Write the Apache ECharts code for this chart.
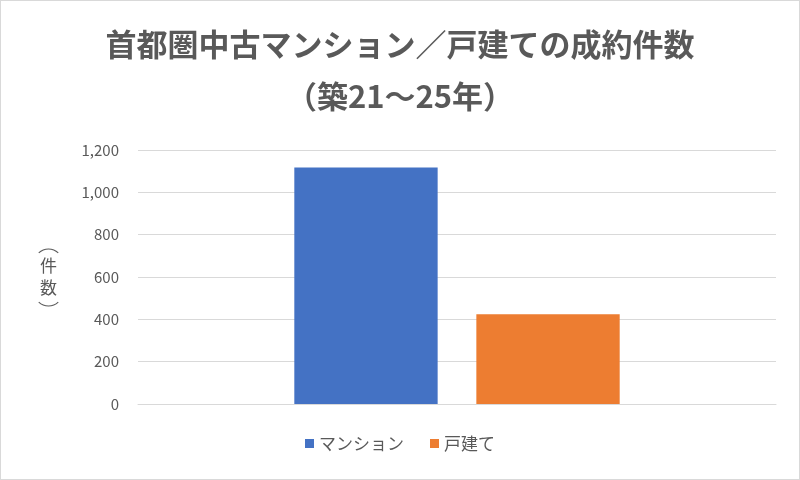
<!DOCTYPE html>
<html>
<head>
<meta charset="utf-8">
<title>首都圏中古マンション／戸建ての成約件数</title>
<script src="https://cdn.jsdelivr.net/npm/echarts@6/dist/echarts.min.js"></script>
<style>
  html, body { margin: 0; padding: 0; background: #fff; }
  #chart { width: 800px; height: 480px; box-sizing: border-box; border: 1px solid #d9d9d9; }
</style>
</head>
<body>
<div id="chart"></div>
<script>
// データ
var categories = ['築21～25年'];
var seriesNames = ['マンション', '戸建て'];
var mansionValues = [1117];
var houseValues = [424];
var colors = ['#4472c4', '#ed7d31'];

var font = '"Noto Sans CJK JP", "Noto Sans", sans-serif';
var chart = echarts.init(document.getElementById('chart'));

// 縦書きの括弧（︵ ︶）は弧で描く
var bracketStyle = { stroke: '#595959', fill: 'none', lineWidth: 1.1 };

var option = {
    animation: false,
    color: colors,
    title: {
        text: '首都圏中古マンション／戸建ての成約件数\n（築21～25年）',
        left: 'center',
        top: 12,
        textStyle: {
            fontFamily: font,
            fontSize: 31,
            fontWeight: 'bold',
            color: '#595959',
            lineHeight: 52
        }
    },
    grid: { left: 137, right: 23, top: 149, bottom: 75 },
    legend: {
        bottom: 22,
        left: 'center',
        icon: 'rect',
        itemWidth: 9,
        itemHeight: 9,
        itemGap: 26,
        textStyle: { fontFamily: font, fontSize: 17, color: '#595959' },
        data: seriesNames
    },
    xAxis: {
        type: 'category',
        data: categories,
        axisLine: { lineStyle: { color: '#d9d9d9' } },
        axisTick: { show: false },
        axisLabel: { show: false }
    },
    yAxis: {
        type: 'value',
        min: 0,
        max: 1200,
        interval: 200,
        axisLine: { show: false },
        axisTick: { show: false },
        splitLine: { lineStyle: { color: '#d9d9d9', width: 1 } },
        axisLabel: {
            fontFamily: font,
            fontSize: 15,
            color: '#595959',
            margin: 19,
            formatter: function (v) { return v.toLocaleString('en-US'); }
        }
    },
    // 縦書きの軸名（件数）
    graphic: [
        {
            type: 'arc',
            shape: { cx: 47.5, cy: 262, r: 14, startAngle: Math.PI + 0.8, endAngle: 2 * Math.PI - 0.8 },
            style: bracketStyle
        },
        {
            type: 'text',
            x: 47.5, y: 276,
            style: { text: '件\n数', fontFamily: font, fontSize: 17, lineHeight: 22, fill: '#595959', align: 'center', verticalAlign: 'middle' }
        },
        {
            type: 'arc',
            shape: { cx: 47.5, cy: 291, r: 14, startAngle: 0.8, endAngle: Math.PI - 0.8 },
            style: bracketStyle
        }
    ],
    series: [
        {
            name: seriesNames[0],
            type: 'bar',
            data: mansionValues,
            barGap: '27%',
            barCategoryGap: '49%'
        },
        {
            name: seriesNames[1],
            type: 'bar',
            data: houseValues
        }
    ]
};
chart.setOption(option);
</script>
</body>
</html>
